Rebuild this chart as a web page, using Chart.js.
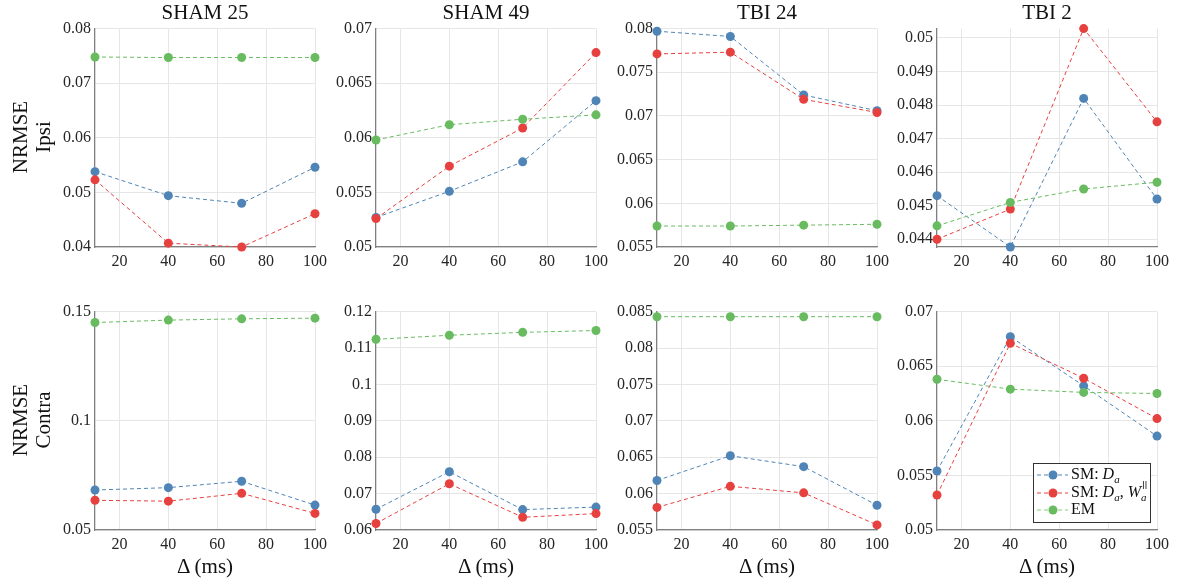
<!DOCTYPE html>
<html>
<head>
<meta charset="utf-8">
<script src="https://cdn.jsdelivr.net/npm/chart.js@4.4.1/dist/chart.umd.min.js"></script>
<style>
  body { margin: 0; background: #fff; position: relative; width: 1178px; height: 585px; overflow: hidden; }
  canvas { position: absolute; }
  .lbl { position: absolute; color: #111; font-family: 'Liberation Serif', serif; font-size: 21px; white-space: nowrap; text-align: center; transform: translate(-50%, -50%); }
  .rot { transform: translate(-50%, -50%) rotate(-90deg); line-height: 23px; }
</style>
</head>
<body>
<script>
// x values (ms)
const deltas = [10, 40, 70, 100];
const xTicks = [20, 40, 60, 80, 100];
const subjects = ['SHAM 25', 'SHAM 49', 'TBI 24', 'TBI 2'];
const regions = ['Ipsi', 'Contra'];
const seriesNames = ['SM: Da', 'SM: Da, Wa', 'EM'];

// Ipsi row, one array per subject
const ipsiSmDa = [
  [0.0538, 0.0494, 0.0480, 0.0546],
  [0.0527, 0.0551, 0.0578, 0.0634],
  [0.0797, 0.0791, 0.0724, 0.0706],
  [0.0453, 0.04377, 0.0482, 0.0452]
];
const ipsiSmDaWa = [
  [0.0523, 0.0407, 0.0400, 0.0461],
  [0.0526, 0.0574, 0.0609, 0.0678],
  [0.0771, 0.0773, 0.0719, 0.0704],
  [0.0440, 0.0449, 0.05028, 0.0475]
];
const ipsiEm = [
  [0.0748, 0.0747, 0.0747, 0.0747],
  [0.0598, 0.0612, 0.0617, 0.0621],
  [0.0574, 0.0574, 0.0575, 0.0576],
  [0.0444, 0.0451, 0.0455, 0.0457]
];

// Contra row
const contraSmDa = [
  [0.0683, 0.0694, 0.0723, 0.0614],
  [0.0657, 0.0760, 0.0656, 0.0663],
  [0.0618, 0.0652, 0.0637, 0.0584],
  [0.0554, 0.0677, 0.0632, 0.0586]
];
const contraSmDaWa = [
  [0.0636, 0.0632, 0.0668, 0.0576],
  [0.0618, 0.0727, 0.0635, 0.0645],
  [0.0581, 0.0610, 0.0601, 0.0557],
  [0.0532, 0.0671, 0.0639, 0.0602]
];
const contraEm = [
  [0.1450, 0.1461, 0.1467, 0.1470],
  [0.1124, 0.1135, 0.1143, 0.1148],
  [0.0843, 0.0843, 0.0843, 0.0843],
  [0.0638, 0.0629, 0.0626, 0.0625]
];

// y ticks and limits
const ipsiTicks = [
  [0.04, 0.05, 0.06, 0.07, 0.08],
  [0.05, 0.055, 0.06, 0.065, 0.07],
  [0.055, 0.06, 0.065, 0.07, 0.075, 0.08],
  [0.044, 0.045, 0.046, 0.047, 0.048, 0.049, 0.05]
];
const contraTicks = [
  [0.05, 0.1, 0.15],
  [0.06, 0.07, 0.08, 0.09, 0.1, 0.11, 0.12],
  [0.055, 0.06, 0.065, 0.07, 0.075, 0.08, 0.085],
  [0.05, 0.055, 0.06, 0.065, 0.07]
];
const ipsiMin = [0.04, 0.05, 0.055, 0.04377];
const ipsiMax = [0.08, 0.07, 0.08, 0.05028];
const contraMin = [0.05, 0.06, 0.055, 0.05];
const contraMax = [0.15, 0.12, 0.085, 0.07];

const colors = ['#4f84b6', '#e6403f', '#68bc5f'];
const fam = "'Liberation Serif', serif";
Chart.defaults.font.family = fam;

// layout (px)
const plotLefts = [95, 376, 657, 937];
const plotTops = [27, 310];
const W = 220, H = 220, AXW = 60, PADT = 12, PADR = 20, AXH = 32;

function fmt(v) { return String(+v.toFixed(4)); }

function addLabel(html, x, y, cls) {
  const d = document.createElement('div');
  d.className = 'lbl' + (cls ? ' ' + cls : '');
  d.innerHTML = html;
  d.style.left = x + 'px';
  d.style.top = y + 'px';
  document.body.appendChild(d);
}

// legend with math-style labels, drawn on the last panel
const mathLegend = {
  id: 'mathLegend',
  afterDraw(chart) {
    if (!chart.options.plugins.mathLegend.show) return;
    const ctx = chart.ctx, a = chart.chartArea;
    const bw = 117, bh = 59;
    const bx = a.right - 7 - bw, by = a.bottom - 8 - bh;
    ctx.save();
    ctx.fillStyle = '#fff';
    ctx.fillRect(bx, by, bw, bh);
    ctx.strokeStyle = '#333';
    ctx.lineWidth = 1;
    ctx.strokeRect(bx + 0.5, by + 0.5, bw, bh);
    const rows = [by + 12, by + 30, by + 47];
    rows.forEach((yy, i) => {
      ctx.strokeStyle = colors[i];
      ctx.setLineDash([4, 3]);
      ctx.beginPath();
      ctx.moveTo(bx + 4, yy);
      ctx.lineTo(bx + 35, yy);
      ctx.stroke();
      ctx.setLineDash([]);
      ctx.fillStyle = colors[i];
      ctx.beginPath();
      ctx.arc(bx + 20, yy, 4.5, 0, Math.PI * 2);
      ctx.fill();
      ctx.fillStyle = '#111';
      ctx.textBaseline = 'middle';
      let x = bx + 38;
      const put = (t, style, size, dy) => {
        ctx.font = style + ' ' + size + 'px ' + fam;
        ctx.fillText(t, x, yy + dy);
        return ctx.measureText(t).width;
      };
      if (i === 2) { put('EM', 'normal', 16, 0); return; }
      x += put('SM: ', 'normal', 16, 0);
      x += put('D', 'italic', 16, 0);
      x += put('a', 'italic', 11, 5);
      if (i === 1) {
        x += put(', ', 'normal', 16, 0);
        x += put('W', 'italic', 16, 0);
        // parallel sign as superscript: two short strokes
        ctx.strokeStyle = '#111';
        ctx.lineWidth = 0.8;
        ctx.beginPath();
        ctx.moveTo(x + 2.5, yy - 12); ctx.lineTo(x + 2.5, yy - 4);
        ctx.moveTo(x + 5, yy - 12); ctx.lineTo(x + 5, yy - 4);
        ctx.stroke();
        x += put('a', 'italic', 11, 5);
      }
    });
    ctx.restore();
  }
};

function makePanel(row, col) {
  const cv = document.createElement('canvas');
  cv.width = AXW + W + PADR;
  cv.height = PADT + H + AXH;
  cv.style.left = (plotLefts[col] - AXW) + 'px';
  cv.style.top = (plotTops[row] - PADT) + 'px';
  document.body.appendChild(cv);

  const series = row === 0
    ? [ipsiSmDa[col], ipsiSmDaWa[col], ipsiEm[col]]
    : [contraSmDa[col], contraSmDaWa[col], contraEm[col]];
  const yt = row === 0 ? ipsiTicks[col] : contraTicks[col];

  const datasets = series.map((vals, i) => ({
    label: seriesNames[i],
    data: deltas.map((d, j) => ({ x: d, y: vals[j] })),
    borderColor: colors[i],
    backgroundColor: colors[i],
    borderWidth: 1,
    borderDash: [4, 3],
    pointRadius: 4.5,
    pointBorderWidth: 0,
    pointBackgroundColor: colors[i],
    order: 3 - i,
    clip: false
  }));

  new Chart(cv, {
    type: 'line',
    data: { datasets: datasets },
    options: {
      responsive: false,
      animation: false,
      layout: { padding: { top: PADT, right: PADR, left: 0, bottom: 0 } },
      plugins: {
        legend: { display: false },
        tooltip: { enabled: false },
        mathLegend: { show: row === 1 && col === 3 }
      },
      scales: {
        x: {
          type: 'linear', min: 10, max: 100,
          afterBuildTicks: s => { s.ticks = xTicks.map(v => ({ value: v })); },
          afterFit: s => { s.height = AXH; },
          grid: { color: '#e6e6e6', drawTicks: false },
          border: { color: '#808080', width: 1.3 },
          ticks: { padding: 5, color: '#262626', font: { family: fam, size: 16 }, maxRotation: 0, autoSkip: false }
        },
        y: {
          type: 'linear',
          min: row === 0 ? ipsiMin[col] : contraMin[col],
          max: row === 0 ? ipsiMax[col] : contraMax[col],
          afterBuildTicks: s => { s.ticks = yt.map(v => ({ value: v })); },
          afterFit: s => { s.width = AXW; },
          grid: { color: '#e6e6e6', drawTicks: false },
          border: { color: '#808080', width: 1.3 },
          ticks: { padding: 4, color: '#262626', font: { family: fam, size: 16 }, autoSkip: false,
                   callback: v => fmt(v) }
        }
      }
    },
    plugins: [mathLegend]
  });
}

for (let r = 0; r < 2; r++) for (let c = 0; c < 4; c++) makePanel(r, c);
subjects.forEach((s, c) => addLabel(s, plotLefts[c] + W / 2, 12));
subjects.forEach((s, c) => addLabel('&Delta; (ms)', plotLefts[c] + W / 2, 566));
regions.forEach((r, i) => addLabel('NRMSE<br>' + r, 32, plotTops[i] + H / 2, 'rot'));
</script>
</body>
</html>
